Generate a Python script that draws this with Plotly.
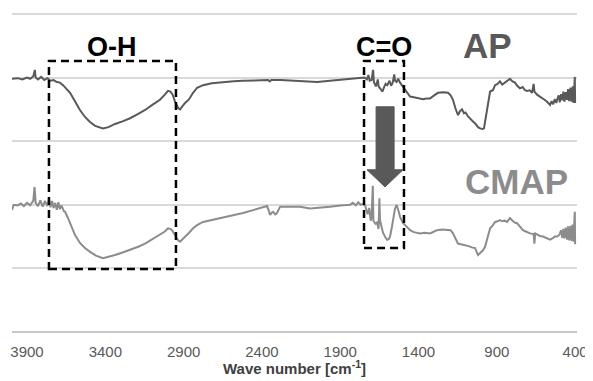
import plotly.graph_objects as go

# ---------------- data ----------------
tick_values = [3900, 3400, 2900, 2400, 1900, 1400, 900, 400]
tick_labels = ["3900", "3400", "2900", "2400", "1900", "1400", "900", "400"]

ap_wavenumber = [3996, 3960, 3930, 3900, 3880, 3860, 3850, 3845, 3830, 3810, 3790, 3770, 3750, 3730, 3710, 3690,
                 3670, 3650, 3625, 3595, 3562, 3530, 3498, 3465, 3434, 3415, 3380, 3338, 3290, 3242, 3190, 3146,
                 3100, 3051, 3020, 3000, 2985, 2970, 2955, 2935, 2923, 2905, 2891, 2865, 2840, 2814, 2776, 2720,
                 2648, 2580, 2521, 2420, 2360, 2350, 2340, 2280, 2221, 2130, 2048, 1965, 1880, 1793, 1760, 1745,
                 1730, 1720, 1712, 1700, 1690, 1685, 1672, 1660, 1655, 1640, 1630, 1620, 1610, 1600, 1585, 1575,
                 1565, 1555, 1550, 1540, 1530, 1518, 1500, 1486, 1470, 1454, 1430, 1410, 1390, 1371, 1350, 1327,
                 1300, 1276, 1240, 1212, 1195, 1180, 1165, 1148, 1135, 1122, 1110, 1100, 1084, 1070, 1052, 1035,
                 1020, 1007, 990, 982, 972, 963, 950, 943, 925, 911, 895, 880, 865, 848, 830, 816,
                 800, 784, 770, 752, 735, 720, 707, 690, 675, 665, 660, 643, 625, 610, 595, 579,
                 570, 560, 550, 540, 530, 520, 515, 505, 498, 490, 482, 475, 468, 460, 452, 445,
                 438, 430, 423, 416, 410, 404, 402, 400]
ap_value = [3.98, 3.99, 3.97, 4.00, 3.98, 4.02, 4.12, 4.00, 3.97, 4.01, 3.96, 3.99, 3.95, 3.96, 3.93, 3.92,
            3.88, 3.83, 3.76, 3.63, 3.49, 3.38, 3.30, 3.24, 3.21, 3.20, 3.22, 3.27, 3.31, 3.36, 3.43, 3.49,
            3.57, 3.65, 3.73, 3.79, 3.78, 3.73, 3.62, 3.52, 3.50, 3.56, 3.60, 3.66, 3.76, 3.84, 3.88, 3.91,
            3.93, 3.94, 3.95, 3.96, 3.96, 3.94, 3.96, 3.96, 3.95, 3.94, 3.93, 3.95, 3.97, 3.99, 3.99, 4.00,
            3.97, 4.04, 3.95, 3.96, 4.12, 3.93, 3.86, 3.97, 3.86, 3.80, 3.78, 3.85, 3.90, 3.88, 3.95, 3.87,
            3.92, 4.05, 3.95, 3.93, 3.98, 3.92, 3.86, 3.80, 3.76, 3.70, 3.69, 3.68, 3.68, 3.66, 3.67, 3.67,
            3.72, 3.76, 3.77, 3.76, 3.72, 3.65, 3.52, 3.41, 3.47, 3.50, 3.44, 3.45, 3.39, 3.35, 3.31, 3.27,
            3.22, 3.20, 3.19, 3.20, 3.35, 3.52, 3.72, 3.78, 3.80, 3.88, 3.90, 3.94, 3.89, 3.92, 3.95, 3.98,
            3.94, 3.92, 3.87, 3.83, 3.85, 3.80, 3.79, 3.80, 3.76, 3.90, 3.78, 3.73, 3.70, 3.68, 3.65, 3.62,
            3.60, 3.57, 3.63, 3.58, 3.66, 3.60, 3.65, 3.72, 3.61, 3.74, 3.64, 3.78, 3.62, 3.77, 3.65, 3.82,
            3.63, 3.84, 3.62, 3.86, 3.60, 3.95, 4.01, 3.60]

cmap_wavenumber = [3996, 3985, 3960, 3940, 3920, 3900, 3880, 3860, 3852, 3845, 3830, 3815, 3800, 3785, 3770, 3760,
                   3750, 3740, 3730, 3720, 3710, 3700, 3690, 3680, 3665, 3657, 3640, 3625, 3610, 3593, 3562, 3530,
                   3498, 3460, 3415, 3380, 3338, 3290, 3242, 3190, 3146, 3100, 3051, 3020, 3000, 2985, 2974, 2960,
                   2949, 2935, 2923, 2905, 2891, 2865, 2840, 2814, 2776, 2720, 2648, 2580, 2521, 2450, 2393, 2367,
                   2355, 2348, 2335, 2329, 2315, 2304, 2284, 2220, 2157, 2093, 2030, 1965, 1900, 1837, 1820, 1800,
                   1785, 1770, 1754, 1740, 1725, 1715, 1705, 1700, 1692, 1688, 1675, 1665, 1655, 1650, 1646, 1627,
                   1610, 1601, 1590, 1582, 1570, 1563, 1555, 1550, 1540, 1531, 1525, 1518, 1510, 1499, 1485, 1470,
                   1454, 1430, 1390, 1360, 1327, 1300, 1282, 1250, 1212, 1195, 1180, 1165, 1148, 1130, 1103, 1080,
                   1060, 1039, 1020, 1007, 990, 975, 960, 943, 925, 911, 895, 880, 865, 850, 835, 816,
                   800, 785, 771, 750, 733, 715, 700, 688, 665, 660, 655, 640, 625, 605, 590, 575,
                   560, 545, 530, 515, 500, 490, 482, 475, 468, 460, 452, 445, 438, 430, 423, 416,
                   410, 404, 402, 400]
cmap_value = [1.92, 2.00, 1.99, 2.02, 1.98, 2.03, 1.99, 2.06, 2.28, 2.03, 1.98, 2.07, 1.97, 2.06, 1.98, 2.09,
              1.96, 2.06, 1.95, 2.03, 1.92, 2.04, 1.93, 1.99, 1.90, 1.89, 1.80, 1.71, 1.61, 1.52, 1.40, 1.32,
              1.26, 1.20, 1.16, 1.18, 1.21, 1.25, 1.29, 1.34, 1.39, 1.46, 1.53, 1.58, 1.63, 1.62, 1.60, 1.54,
              1.50, 1.44, 1.42, 1.46, 1.50, 1.56, 1.63, 1.68, 1.73, 1.76, 1.79, 1.83, 1.87, 1.92, 1.96, 1.98,
              1.90, 1.84, 1.88, 1.89, 1.85, 1.87, 1.97, 1.97, 1.97, 1.94, 1.95, 1.97, 1.99, 2.00, 2.03, 1.99,
              2.04, 2.00, 2.01, 1.98, 1.85, 1.95, 1.75, 1.80, 2.30, 1.75, 1.70, 1.72, 1.62, 2.10, 1.76, 1.56,
              1.48, 1.45, 1.46, 1.50, 1.65, 1.76, 1.88, 1.94, 2.00, 1.94, 1.88, 1.81, 1.76, 1.71, 1.68, 1.64,
              1.60, 1.57, 1.55, 1.56, 1.55, 1.58, 1.60, 1.61, 1.61, 1.60, 1.55, 1.47, 1.39, 1.38, 1.37, 1.35,
              1.33, 1.32, 1.21, 1.24, 1.28, 1.34, 1.48, 1.63, 1.68, 1.73, 1.74, 1.76, 1.74, 1.75, 1.73, 1.79,
              1.75, 1.72, 1.71, 1.65, 1.60, 1.58, 1.56, 1.55, 1.54, 1.39, 1.55, 1.53, 1.51, 1.50, 1.48, 1.47,
              1.45, 1.47, 1.50, 1.50, 1.53, 1.60, 1.48, 1.62, 1.47, 1.64, 1.45, 1.66, 1.44, 1.67, 1.43, 1.69,
              1.42, 1.80, 1.89, 1.38]

# annotation regions (wave number range, value range)
oh_box = dict(x0=3760, x1=2949, y0=0.99, y1=4.26)
co_box = dict(x0=1748, x1=1493, y0=1.32, y1=4.26)

# ---------------- figure ----------------
fig = go.Figure()
fig.add_trace(go.Scatter(x=ap_wavenumber, y=ap_value, mode="lines", name="AP",
                         line=dict(color="#595959", width=2)))
fig.add_trace(go.Scatter(x=cmap_wavenumber, y=cmap_value, mode="lines", name="CMAP",
                         line=dict(color="#8c8c8c", width=2)))

dash = "8px,5px"
for b in (oh_box, co_box):
    fig.add_shape(type="rect", xref="x", yref="y", **b,
                  line=dict(color="black", width=2.5, dash=dash), fillcolor="rgba(0,0,0,0)")

# big down arrow
sx0, sx1, hx0, hx1, tipx = 1671, 1556, 1729, 1499, 1614
sy_top, hy, tipy = 3.54, 2.55, 2.28
arrow_path = (f"M {sx0},{sy_top} L {sx1},{sy_top} L {sx1},{hy} L {hx1},{hy} "
              f"L {tipx},{tipy} L {hx0},{hy} L {sx0},{hy} Z")
fig.add_shape(type="path", xref="x", yref="y", path=arrow_path,
              fillcolor="#595959", line=dict(color="#595959", width=1))

font_fam = "Liberation Sans, Arial, sans-serif"
fig.add_annotation(x=3355, y=4.48, xref="x", yref="y", text="<b>O-H</b>", showarrow=False,
                   font=dict(family=font_fam, size=27, color="black"))
fig.add_annotation(x=1620, y=4.48, xref="x", yref="y", text="<b>C=O</b>", showarrow=False,
                   font=dict(family=font_fam, size=27, color="black"))
fig.add_annotation(x=960, y=4.5, xref="x", yref="y", text="<b>AP</b>", showarrow=False,
                   font=dict(family=font_fam, size=35, color="#595959"))
fig.add_annotation(x=775, y=2.37, xref="x", yref="y", text="<b>CMAP</b>", showarrow=False,
                   font=dict(family=font_fam, size=35, color="#8c8c8c"))
# axis title
fig.add_annotation(x=0.5, y=-0.11, xref="paper", yref="paper", yanchor="middle",
                   text="<b>Wave number [cm<sup>-1</sup>]</b>", showarrow=False,
                   font=dict(family=font_fam, size=15, color="#404040"))

fig.update_layout(
    width=585, height=373,
    margin=dict(l=4, r=16, t=4, b=49, autoexpand=False),
    paper_bgcolor="white", plot_bgcolor="white",
    showlegend=False,
    font=dict(family=font_fam),
)
fig.update_xaxes(
    range=[3996, 388], automargin=False,
    tickvals=tick_values, ticktext=tick_labels,
    tickfont=dict(size=15, color="#595959"),
    ticks="outside", ticklen=6, tickcolor="rgba(0,0,0,0)",
    showgrid=False, showline=False, zeroline=False,
)
fig.update_yaxes(
    range=[0, 5.03], dtick=1, tick0=0, automargin=False,
    showticklabels=False, ticks="",
    showgrid=True, gridcolor="#d9d9d9", gridwidth=1.5,
    zeroline=True, zerolinecolor="#c8c8c8", zerolinewidth=1.5,
    showline=False,
)

fig.write_html("out.html")
